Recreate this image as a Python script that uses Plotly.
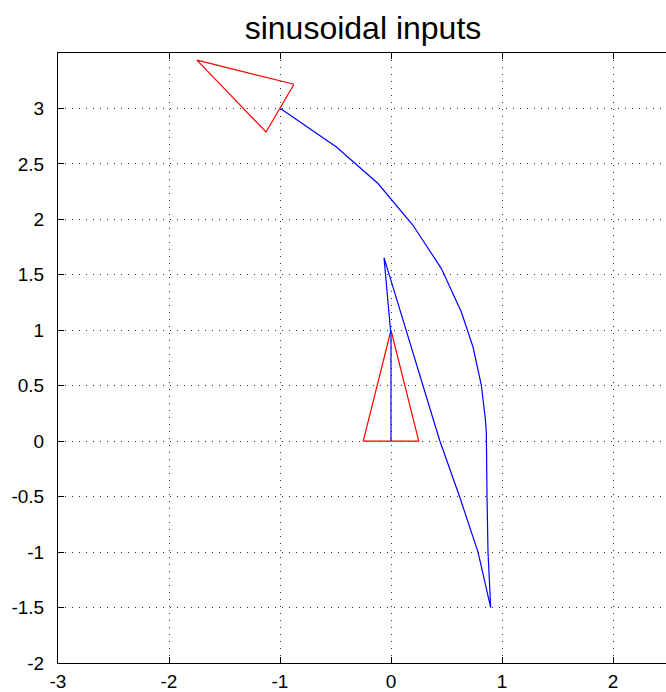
import plotly.graph_objects as go

# Blue trajectory (x, y)
traj_x = [0.0, 0.0, -0.063, 0.438, 0.619, 0.784, 0.898, 0.874, 0.865, 0.859, 0.85, 0.814, 0.739, 0.634, 0.454, 0.198, -0.117, -0.492, -0.996]
traj_y = [0.0, 0.95, 1.655, 0.008, -0.503, -1.0, -1.5, -1.0, -0.5, 0.07, 0.2, 0.504, 0.849, 1.165, 1.556, 1.947, 2.323, 2.653, 2.999]

# Start vehicle triangle (closed)
tri1_x = [-0.25, 0.25, 0.0, -0.25]
tri1_y = [0.0, 0.0, 1.0, 0.0]

# End vehicle triangle (closed)
tri2_x = [-0.874, -1.126, -1.748, -0.874]
tri2_y = [3.218, 2.788, 3.436, 3.218]

x_ticks = [-3, -2, -1, 0, 1, 2]
x_labels = ["-3", "-2", "-1", "0", "1", "2"]
y_ticks = [-2, -1.5, -1, -0.5, 0, 0.5, 1, 1.5, 2, 2.5, 3]
y_labels = ["-2", "-1.5", "-1", "-0.5", "0", "0.5", "1", "1.5", "2", "2.5", "3"]

W, H = 666, 692
ML, MR, MT, MB = 58, 0, 53, 29
px_per_unit_x = 111.0
x_max = -3 + (W - ML - MR) / px_per_unit_x

fig = go.Figure()
fig.add_trace(go.Scatter(x=tri1_x, y=tri1_y, mode="lines",
                         line=dict(color="#ff0000", width=1.2), showlegend=False, hoverinfo="skip"))
fig.add_trace(go.Scatter(x=tri2_x, y=tri2_y, mode="lines",
                         line=dict(color="#ff0000", width=1.2), showlegend=False, hoverinfo="skip"))
fig.add_trace(go.Scatter(x=traj_x, y=traj_y, mode="lines",
                         line=dict(color="#0000ff", width=1.2), showlegend=False, hoverinfo="skip"))

font_family = "Liberation Sans, Arial, Helvetica, sans-serif"

fig.update_layout(
    width=W, height=H,
    margin=dict(l=ML, r=MR, t=MT, b=MB),
    paper_bgcolor="white", plot_bgcolor="white",
    font=dict(family=font_family, size=19, color="black"),
    title=dict(text="sinusoidal inputs", x=(ML + (ML + 610)) / 2 / W, xanchor="center",
               y=1 - 28 / H, yanchor="middle", yref="container",
               font=dict(family=font_family, size=32, color="black")),
    xaxis=dict(range=[-3, x_max], tickvals=x_ticks, ticktext=x_labels,
               showline=True, linecolor="black", linewidth=1, mirror="ticks",
               ticks="inside", ticklen=6, tickcolor="black",
               showgrid=True, gridcolor="#333333", gridwidth=1, griddash="1px,6px",
               zeroline=False, ticklabelstandoff=1, fixedrange=True),
    yaxis=dict(range=[-2, 3.5], tickvals=y_ticks, ticktext=y_labels,
               showline=True, linecolor="black", linewidth=1, mirror=False,
               ticks="inside", ticklen=6, tickcolor="black",
               showgrid=True, gridcolor="#333333", gridwidth=1, griddash="1px,6px",
               zeroline=False, ticklabelstandoff=9, fixedrange=True),
)

fig.write_html("out.html", config={"displayModeBar": False})
